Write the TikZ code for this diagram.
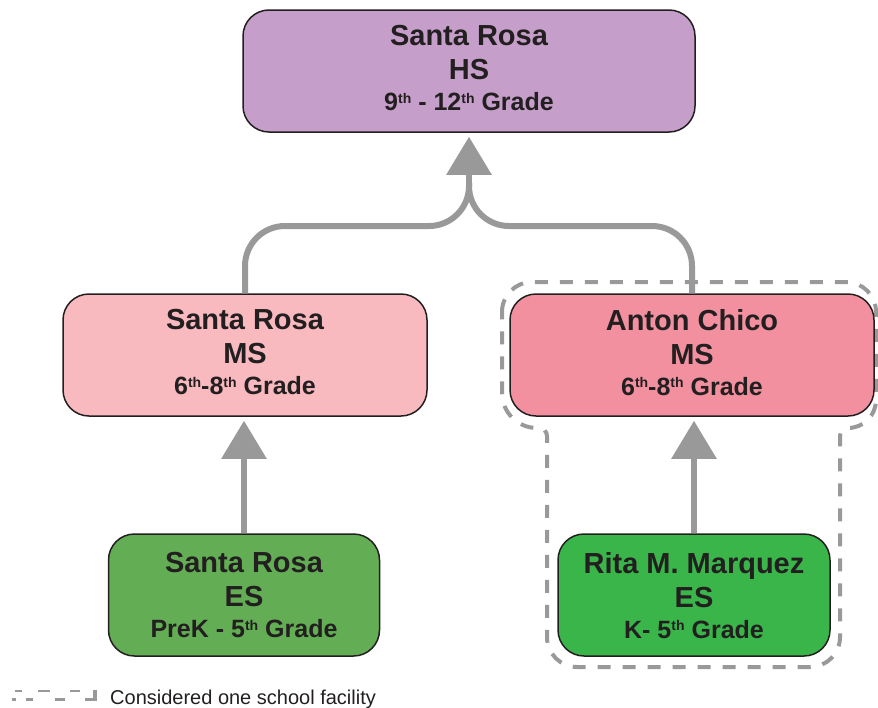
\documentclass[tikz,border=0pt]{standalone}
\usepackage{fontspec}
\setmainfont{Liberation Sans}
\usetikzlibrary{arrows.meta}
\definecolor{txtc}{HTML}{231F20}
\definecolor{connc}{HTML}{999999}
\definecolor{hsfill}{HTML}{C59FC9}
\definecolor{srmsfill}{HTML}{F8B9BF}
\definecolor{acmsfill}{HTML}{F290A0}
\definecolor{sresfill}{HTML}{63AE55}
\definecolor{rmmfill}{HTML}{39B54A}
\newcommand\supth{\raisebox{7.5pt}{\fontsize{14}{14}\selectfont th}}
\newcommand\gradeline[1]{{\fontsize{25}{30}\selectfont #1}}
\begin{document}
\begin{tikzpicture}[x=1pt,y=-1pt,
  school/.style={draw=txtc, line width=1.5pt, rounded corners=26pt, inner sep=0pt,
    align=center, font=\bfseries\fontsize{29}{34}\selectfont, text=txtc,
    minimum height=122pt, text depth=6pt},
  lowschool/.style={school, text depth=0pt},
  link/.style={draw=connc, line width=6pt},
  conn/.style={link, -{Triangle[width=44pt,length=38pt]}, shorten >=4pt},
  facility/.style={draw=connc, line width=4pt, dash pattern=on 13pt off 12pt}]
\useasboundingbox (0,0) rectangle (878,707);

% considered-one-facility outline
\draw[facility] (502,312) .. controls (502,295.4) and (515.4,282) .. (532,282)
 -- (846,282) .. controls (862.6,282) and (876,295.4) .. (876,312)
 -- (876,400) .. controls (876,415.5) and (863.5,428) .. (848,428)
 .. controls (843.6,428) and (840,431.6) .. (840,436)
 -- (840,637) .. controls (840,653.6) and (826.6,667) .. (810,667)
 -- (577,667) .. controls (560.4,667) and (547,653.6) .. (547,637)
 -- (547,436) .. controls (547,431.6) and (543.4,428) .. (539,428)
 -- (537,428) .. controls (517.7,428) and (502,412.3) .. (502,393)
 -- cycle;

% schools
\node[school, fill=hsfill, minimum width=452pt] (hs) at (469,71)
  {Santa Rosa\\HS\\[-3pt]\gradeline{9\supth\ - 12\supth\ Grade}};
\node[school, fill=srmsfill, minimum width=364pt] (srms) at (245,355)
  {Santa Rosa\\MS\\[-3pt]\gradeline{6\supth-8\supth\ Grade}};
\node[school, fill=acmsfill, minimum width=364pt] (acms) at (692,355)
  {Anton Chico\\MS\\[-3pt]\gradeline{6\supth-8\supth\ Grade}};
\node[lowschool, fill=sresfill, minimum width=271pt] (sres) at (244,595)
  {Santa Rosa\\ES\\[-3pt]\gradeline{PreK - 5\supth\ Grade}};
\node[lowschool, fill=rmmfill, minimum width=272pt] (rmm) at (694,595)
  {Rita M. Marquez\\ES\\[-3pt]\gradeline{K- 5\supth\ Grade}};

% connectors
\coordinate (j) at (469,226);
\coordinate (jt) at (469,183);
\draw[link, rounded corners=40pt] (srms.north) |- (j) -- (jt);
\draw[link, rounded corners=40pt] (acms.north) |- (j) -- (jt);
\draw[conn] (jt) -- (hs.south);
\draw[conn] (sres.north) -- (sres.north |- srms.south);
\draw[conn] (rmm.north) -- (rmm.north |- acms.south);

% legend
\fill[connc] (11.7,697.7) rectangle (15.7,701);
\fill[connc] (15,689.7) rectangle (22.3,692.3);
\fill[connc] (25.7,697.7) rectangle (33.3,701);
\fill[connc] (38,689.7) rectangle (50,692.3);
\fill[connc] (55,697.7) rectangle (65,701);
\fill[connc] (70,689.7) rectangle (80,692.3);
\fill[connc] (85,697.7) rectangle (93,701);
\fill[connc] (92.5,689.7) rectangle (96.5,701);
\node[anchor=base west, inner sep=0pt, text=txtc, font=\fontsize{20}{24}\selectfont] (legend) at (110,704.5) {Considered one school facility};
\end{tikzpicture}
\end{document}
